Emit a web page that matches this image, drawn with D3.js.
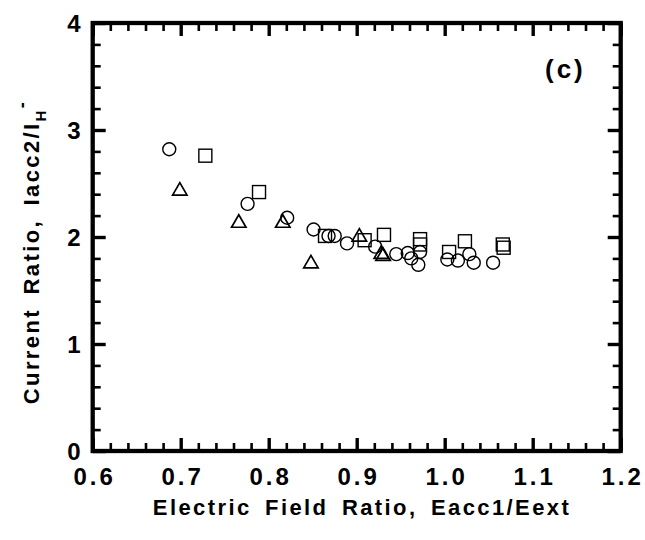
<!DOCTYPE html>
<html><head><meta charset="utf-8">
<script src="https://cdn.jsdelivr.net/npm/d3@7"></script>
<style>
body{margin:0;background:#fff;}
svg{display:block;}
text{font-family:"Liberation Sans",Arial,Helvetica,sans-serif;font-weight:bold;fill:#000;}
</style></head>
<body>
<script>
// Data
const circleX = [0.687, 0.776, 0.821, 0.851, 0.868, 0.875, 0.889, 0.921, 0.945, 0.958, 0.962, 0.970, 0.972, 1.003, 1.015, 1.028, 1.033, 1.055];
const circleY = [2.82, 2.31, 2.18, 2.07, 2.01, 2.01, 1.94, 1.91, 1.84, 1.85, 1.80, 1.74, 1.86, 1.79, 1.78, 1.84, 1.76, 1.76];
const squareX = [0.728, 0.789, 0.864, 0.909, 0.931, 0.972, 0.972, 1.005, 1.023, 1.066, 1.067];
const squareY = [2.76, 2.42, 2.01, 1.97, 2.02, 1.98, 1.93, 1.86, 1.96, 1.93, 1.90];
const triangleX = [0.699, 0.766, 0.816, 0.848, 0.903, 0.928, 0.930];
const triangleY = [2.43, 2.13, 2.13, 1.75, 2.00, 1.84, 1.82];
const xTickLabels = ["0.6","0.7","0.8","0.9","1.0","1.1","1.2"];
const yTickLabels = ["0","1","2","3","4"];
const xTitle = "Electric Field Ratio, Eacc1/Eext";
const panelLabel = "(c)";

const W = 645, H = 540;
const L = 92.7, R = 620.7, T = 23, B = 451;

const svg = d3.select("body").append("svg").attr("width", W).attr("height", H);
const x = d3.scaleLinear().domain([0.6, 1.2]).range([L, R]);
const y = d3.scaleLinear().domain([0, 4]).range([B, T]);

const xMajor = d3.range(0, 7).map(i => 0.6 + i * 0.1);
const xMinor = d3.range(0, 31).map(i => 0.6 + i * 0.02).filter((v, i) => i % 5 !== 0);
const yMajor = d3.range(0, 5);
const yMinor = d3.range(0, 21).map(i => i * 0.2).filter((v, i) => i % 5 !== 0);

function tickAxis(axisFn, scale, vals, len, sw, tx, ty) {
  const g = svg.append("g").attr("transform", `translate(${tx},${ty})`)
    .call(axisFn(scale).tickValues(vals).tickSize(len).tickFormat(""));
  g.select(".domain").remove();
  g.selectAll(".tick line").attr("stroke", "#000").attr("stroke-width", sw);
  return g;
}
tickAxis(d3.axisTop, x, xMinor, 8, 2.6, 0, B);
tickAxis(d3.axisTop, x, xMajor, 13, 3.4, 0, B);
tickAxis(d3.axisBottom, x, xMinor, 8, 2.6, 0, T);
tickAxis(d3.axisBottom, x, xMajor, 13, 3.4, 0, T);
tickAxis(d3.axisRight, y, yMinor, 8, 2.6, L, 0);
tickAxis(d3.axisRight, y, yMajor, 13, 3.4, L, 0);
tickAxis(d3.axisLeft, y, yMinor, 8, 2.6, R, 0);
tickAxis(d3.axisLeft, y, yMajor, 13, 3.4, R, 0);

svg.append("rect").attr("x", L).attr("y", T).attr("width", R - L).attr("height", B - T)
  .attr("fill", "none").attr("stroke", "#000").attr("stroke-width", 4.3);

const xl = d3.axisBottom(x).tickValues(xMajor).tickSize(0).tickPadding(0)
  .tickFormat((d, i) => xTickLabels[i]);
const gx = svg.append("g").attr("transform", `translate(1.5,${B + 34})`).call(xl);
gx.select(".domain").remove();
gx.selectAll("text").attr("font-size", 24).attr("dy", 0).attr("letter-spacing", 3)
  .style("font-family", "'Liberation Sans',Arial,sans-serif").style("font-weight", "bold").attr("fill", "#000");

const yl = d3.axisLeft(y).tickValues(yMajor).tickSize(0).tickPadding(0)
  .tickFormat((d, i) => yTickLabels[i]);
const gy = svg.append("g").attr("transform", `translate(${L - 12},0)`).call(yl);
gy.select(".domain").remove();
gy.selectAll("text").attr("font-size", 24).attr("dy", "0.36em")
  .style("font-family", "'Liberation Sans',Arial,sans-serif").style("font-weight", "bold").attr("fill", "#000");

svg.append("text").attr("x", 362).attr("y", 515).attr("text-anchor", "middle")
  .attr("font-size", 22).attr("letter-spacing", 2.4).attr("word-spacing", 5).text(xTitle);

const yt = svg.append("text").attr("transform", "translate(39,252) rotate(-90)")
  .attr("text-anchor", "middle").attr("font-size", 22).attr("letter-spacing", 2.4).attr("word-spacing", 5);
yt.append("tspan").text("Current Ratio, Iacc2/I");
yt.append("tspan").attr("font-size", 15).attr("dy", 7).text("H");
yt.append("tspan").attr("font-size", 18).attr("dy", -18).text("-");

svg.append("text").attr("x", 545).attr("y", 78).attr("text-anchor", "start")
  .attr("font-size", 26).attr("letter-spacing", 3).text(panelLabel);

const mk = svg.append("g").attr("fill", "none").attr("stroke", "#000").attr("stroke-width", 1.4);
mk.selectAll("circle.c").data(circleX.map((v, i) => [v, circleY[i]])).join("circle")
  .attr("cx", d => x(d[0])).attr("cy", d => y(d[1])).attr("r", 6.5);
const s = 13;
mk.selectAll("rect.s").data(squareX.map((v, i) => [v, squareY[i]])).join("rect")
  .attr("x", d => x(d[0]) - s / 2).attr("y", d => y(d[1]) - s / 2).attr("width", s).attr("height", s);
const tri = d3.symbol().type(d3.symbolTriangle).size(90);
mk.selectAll("path.t").data(triangleX.map((v, i) => [v, triangleY[i]])).join("path")
  .attr("d", tri).attr("transform", d => `translate(${x(d[0])},${y(d[1])})`).attr("stroke-width", 1.7);
</script>
</body></html>
